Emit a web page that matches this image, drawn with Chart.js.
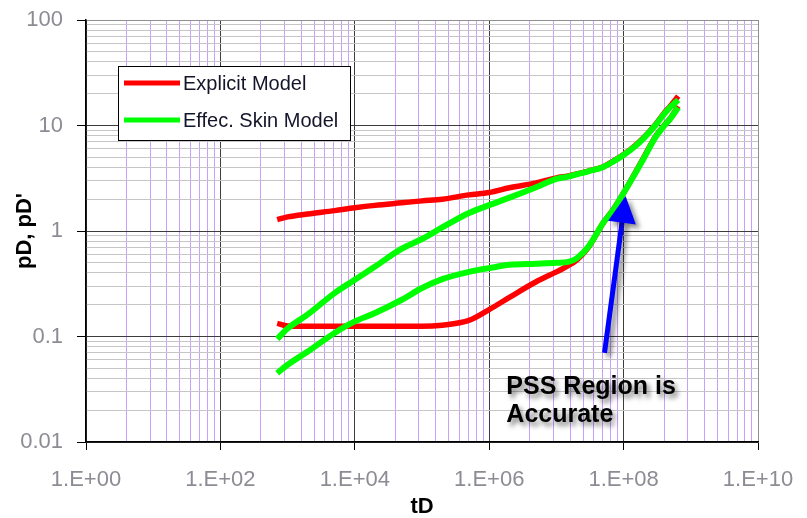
<!DOCTYPE html>
<html>
<head>
<meta charset="utf-8">
<script src="https://cdn.jsdelivr.net/npm/chart.js@4/dist/chart.umd.min.js"></script>
<style>
  html, body { margin: 0; padding: 0; background: #ffffff; }
  #wrap { width: 807px; height: 518px; }
</style>
</head>
<body>
<div id="wrap"><canvas id="chart" width="807" height="518"></canvas></div>
<script>
// Dimensionless time and pressure responses
const tD = [7e2, 1e3, 2e3, 5e3, 1e4, 2e4, 5e4, 1e5, 2e5, 5e5, 1e6, 2e6, 5e6, 1e7, 1.5e7, 2e7, 3e7, 5e7, 7e7, 1e8, 1.5e8, 2e8, 3e8, 4e8, 5e8, 6.5e8];
const explicitPD       = [1.28, 1.36, 1.45, 1.56, 1.66, 1.75, 1.85, 1.93, 2.0, 2.2, 2.32, 2.57, 2.86, 3.19, 3.33, 3.47, 3.7, 4.07, 4.6, 5.3, 6.5, 7.7, 10.3, 13.1, 15.4, 19.0];
const explicitPDprime  = [0.133, 0.126, 0.125, 0.125, 0.125, 0.125, 0.125, 0.125, 0.128, 0.142, 0.18, 0.235, 0.33, 0.41, 0.47, 0.53, 0.70, 1.2, 1.6, 2.29, 3.6, 5.0, 7.9, 10.0, 11.8, 15.2];
const effecSkinPD      = [0.095, 0.119, 0.162, 0.258, 0.345, 0.46, 0.68, 0.84, 1.08, 1.48, 1.76, 2.07, 2.6, 3.12, 3.28, 3.44, 3.68, 4.05, 4.55, 5.25, 6.4, 7.6, 10.1, 12.8, 15.0, 17.5];
const effecSkinPDprime = [0.045, 0.054, 0.072, 0.108, 0.139, 0.167, 0.223, 0.288, 0.35, 0.41, 0.445, 0.478, 0.49, 0.50, 0.51, 0.55, 0.71, 1.2, 1.58, 2.29, 3.55, 4.9, 7.8, 9.9, 11.7, 14.8];

const seriesNames = ['Explicit Model', 'Effec. Skin Model'];
const seriesColors = ['#ff0000', '#00ff00'];

// Axis ticks
const xTickValues = [1, 1e2, 1e4, 1e6, 1e8, 1e10];
const xTickLabels = ['1.E+00', '1.E+02', '1.E+04', '1.E+06', '1.E+08', '1.E+10'];
const xMinorFactors = [4, 9, 16, 25, 36, 49, 64, 81];
const yTickValues = [0.01, 0.1, 1, 10, 100];
const yTickLabels = ['0.01', '0.1', '1', '10', '100'];
const yMinorFactors = [2, 3, 4, 5, 6, 7, 8, 9];

// Callout
const noteLines = ['PSS Region is', 'Accurate'];
const noteAnchor = { tD: 1.8e6, p: 0.0287 };
const arrowTail = { tD: 5.2e7, p: 0.07 };
const arrowTip = { tD: 1.07e8, p: 2.15 };

const FONT = '"Liberation Sans", Arial, sans-serif';

function buildTicks(majors, factors) {
  const out = [];
  majors.forEach((v, i) => {
    out.push({ value: v, major: true });
    if (i < majors.length - 1) factors.forEach(f => out.push({ value: v * f, major: false }));
  });
  return out.sort((a, b) => a.value - b.value);
}

function pairs(values) {
  return tD.map((t, i) => ({ x: t, y: values[i] }));
}

const overlay = {
  id: 'overlay',
  afterDatasetsDraw(chart) {
    const { ctx, chartArea: area, scales: { x, y } } = chart;

    // Legend box
    const lx = area.left + 32, ly = area.top + 46, lw = 232, lh = 74;
    ctx.save();
    ctx.fillStyle = '#ffffff';
    ctx.fillRect(lx, ly, lw, lh);
    ctx.strokeStyle = '#000000';
    ctx.lineWidth = 1;
    ctx.strokeRect(lx + 0.5, ly + 0.5, lw, lh);
    ctx.font = '20px ' + FONT;
    ctx.textBaseline = 'middle';
    ctx.textAlign = 'left';
    seriesNames.forEach((name, i) => {
      const rowY = ly + 17 + i * 37;
      ctx.strokeStyle = seriesColors[i];
      ctx.lineWidth = 5;
      ctx.beginPath();
      ctx.moveTo(lx + 6, rowY);
      ctx.lineTo(lx + 62, rowY);
      ctx.stroke();
      ctx.fillStyle = '#14142a';
      ctx.fillText(name, lx + 65, rowY + 1);
    });
    ctx.restore();

    // Arrow pointing at the pseudo-steady-state part of the curves
    const tx = x.getPixelForValue(arrowTail.tD), ty = y.getPixelForValue(arrowTail.p);
    const hx = x.getPixelForValue(arrowTip.tD), hy = y.getPixelForValue(arrowTip.p);
    const dx = hx - tx, dy = hy - ty, len = Math.hypot(dx, dy);
    const ux = dx / len, uy = dy / len, nx = -uy, ny = ux;
    const headLen = 27, headHalf = 14;
    const bx = hx - ux * headLen, by = hy - uy * headLen;
    ctx.save();
    ctx.shadowColor = 'rgba(0,0,0,0.45)';
    ctx.shadowBlur = 5;
    ctx.shadowOffsetX = 4;
    ctx.shadowOffsetY = 4;
    ctx.strokeStyle = '#0000ff';
    ctx.fillStyle = '#0000ff';
    ctx.lineWidth = 5;
    ctx.beginPath();
    ctx.moveTo(tx, ty);
    ctx.lineTo(bx + ux * 2, by + uy * 2);
    ctx.stroke();
    ctx.beginPath();
    ctx.moveTo(hx, hy);
    ctx.lineTo(bx + nx * headHalf, by + ny * headHalf);
    ctx.lineTo(bx - nx * headHalf, by - ny * headHalf);
    ctx.closePath();
    ctx.fill();
    ctx.restore();

    // Callout text
    const nx0 = x.getPixelForValue(noteAnchor.tD), ny0 = y.getPixelForValue(noteAnchor.p);
    ctx.save();
    ctx.font = 'bold 25px ' + FONT;
    ctx.textAlign = 'left';
    ctx.textBaseline = 'alphabetic';
    ctx.shadowColor = 'rgba(0,0,0,0.5)';
    ctx.shadowBlur = 5;
    ctx.shadowOffsetX = 3;
    ctx.shadowOffsetY = 4;
    ctx.fillStyle = '#000000';
    noteLines.forEach((line, i) => ctx.fillText(line, nx0, ny0 + i * 28));
    ctx.restore();
  }
};

const line = (values, color, width, order) => ({
  data: pairs(values),
  borderColor: color,
  backgroundColor: color,
  borderWidth: width,
  pointRadius: 0,
  fill: false,
  tension: 0.25,
  cubicInterpolationMode: 'monotone',
  borderCapStyle: 'butt',
  borderJoinStyle: 'round',
  order
});

new Chart(document.getElementById('chart'), {
  type: 'line',
  data: {
    datasets: [
      Object.assign(line(explicitPD, seriesColors[0], 5.5, 1), { label: seriesNames[0] }),
      Object.assign(line(explicitPDprime, seriesColors[0], 5.5, 1), { label: seriesNames[0] }),
      Object.assign(line(effecSkinPD, seriesColors[1], 6, 0), { label: seriesNames[1] }),
      Object.assign(line(effecSkinPDprime, seriesColors[1], 6, 0), { label: seriesNames[1] })
    ]
  },
  options: {
    responsive: false,
    animation: false,
    devicePixelRatio: 1,
    layout: { padding: { left: 0, right: 49, top: 20, bottom: 0 } },
    plugins: { legend: { display: false }, tooltip: { enabled: false } },
    scales: {
      x: {
        type: 'logarithmic',
        min: 1,
        max: 1e10,
        afterBuildTicks: scale => { scale.ticks = buildTicks(xTickValues, xMinorFactors); },
        afterFit: scale => {
          scale.height = 76;
          scale.paddingLeft = 0;
          scale.paddingRight = 0;
        },
        ticks: {
          autoSkip: false,
          maxRotation: 0,
          padding: 17,
          color: '#8c8c94',
          font: { size: 22, family: FONT },
          callback: (v) => {
            const i = xTickValues.indexOf(v);
            return i >= 0 ? xTickLabels[i] : '';
          }
        },
        grid: {
          drawTicks: true,
          tickLength: 8,
          lineWidth: 1,
          color: c => {
            const v = c.tick ? c.tick.value : 0;
            if (xTickValues.indexOf(v) < 0) return '#c89eff';
            return v === 1e10 ? '#8f8f8f' : '#3c3c3c';
          },
          tickColor: c => (c.tick && xTickValues.indexOf(c.tick.value) >= 0) ? '#000000' : 'rgba(0,0,0,0)'
        },
        border: { color: '#000000', width: 1.5 },
        title: {
          display: true,
          text: 'tD',
          color: '#000000',
          font: { size: 22, weight: 'bold', family: FONT, lineHeight: 1 },
          padding: { top: 0, bottom: 0 }
        }
      },
      y: {
        type: 'logarithmic',
        min: 0.01,
        max: 100,
        afterBuildTicks: scale => { scale.ticks = buildTicks(yTickValues, yMinorFactors); },
        afterFit: scale => {
          scale.width = 86;
          scale.paddingTop = 0;
          scale.paddingBottom = 0;
        },
        ticks: {
          autoSkip: false,
          padding: 14,
          color: '#8c8c94',
          font: { size: 22, family: FONT, lineHeight: 0.5 },
          callback: (v) => {
            const i = yTickValues.indexOf(v);
            return i >= 0 ? yTickLabels[i] : '';
          }
        },
        grid: {
          drawTicks: true,
          tickLength: 9,
          lineWidth: 1,
          color: c => {
            const v = c.tick ? c.tick.value : 0;
            if (yTickValues.indexOf(v) < 0) return '#c6c6c6';
            return v === 100 ? '#8f8f8f' : '#3c3c3c';
          },
          tickColor: c => (c.tick && yTickValues.indexOf(c.tick.value) >= 0) ? '#000000' : 'rgba(0,0,0,0)'
        },
        border: { color: '#000000', width: 1.5 },
        title: {
          display: true,
          text: "pD, pD'",
          color: '#000000',
          font: { size: 22, weight: 'bold', family: FONT, lineHeight: 1 },
          padding: { top: 14, bottom: 0 }
        }
      }
    }
  },
  plugins: [overlay]
});
</script>
</body>
</html>
